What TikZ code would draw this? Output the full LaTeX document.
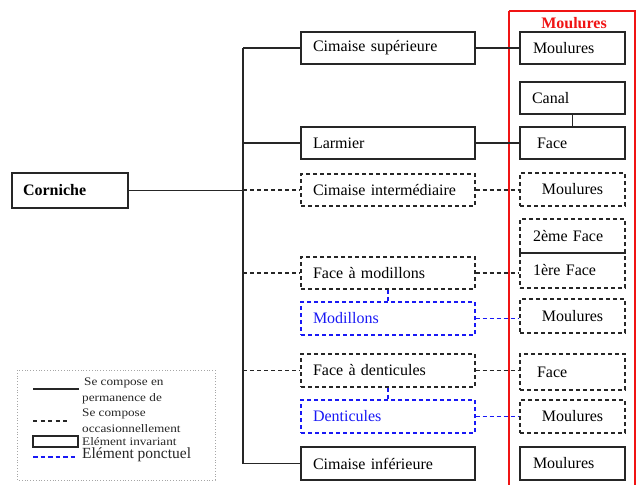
\documentclass[tikz,border=0pt]{standalone}
\usepackage{fontspec}
\setmainfont{Liberation Serif}
\newfontfamily\legfont[FakeStretch=1.15]{Liberation Serif}
\definecolor{myblue}{RGB}{25,25,245}
\definecolor{myred}{RGB}{240,20,20}
\begin{document}
\begin{tikzpicture}[x=1pt,y=-1pt,
  base/.style={line width=1.1pt, inner ysep=0pt, font=\fontsize{16}{19}\selectfont, align=left},
  midbox/.style={base, minimum width=174pt, text width=150pt, inner xsep=12pt, minimum height=32pt},
  rbox/.style={base, minimum width=105pt, text width=79pt, inner xsep=13pt, minimum height=32pt},
  solidb/.style={draw=black!85},
  dashb/.style={draw=black!85, dash pattern=on 4pt off 3pt},
  blueb/.style={draw=myblue, dash pattern=on 4pt off 3pt, text=myblue},
  sline/.style={line width=1.1pt, draw=black!85},
  dline/.style={line width=1.1pt, draw=black!85, dash pattern=on 4pt off 3pt},
  bline/.style={line width=1.1pt, draw=myblue, dash pattern=on 4pt off 3pt},
  legtxt/.style={anchor=west, inner sep=0pt, text=black!85, font=\legfont\fontsize{11.5}{13}\selectfont}
]
\useasboundingbox (0,0) rectangle (636,484);

% red frame
\draw[myred, line width=1.4pt] (509,11) -- (635,11) -- (635,490);
\draw[myred, line width=1.4pt] (509,11) -- (509,490);
\node[text=myred, font=\fontsize{16}{19}\selectfont\bfseries, inner sep=0pt] (rtitle) at (574,23) {Moulures};

% Corniche
\node[base, solidb, minimum width=116pt, minimum height=35pt, text width=94pt, inner xsep=11pt, font=\fontsize{16}{19}\selectfont\bfseries] (corn) at (70,190.5) {Corniche};

% middle column
\node[midbox, solidb] (cs) at (388,48) {Cimaise supérieure};
\node[midbox, solidb] (lar) at (388,143) {Larmier};
\node[midbox, dashb] (ci) at (388,190) {Cimaise intermédiaire};
\node[midbox, dashb] (fm) at (388,273) {Face à modillons};
\node[midbox, blueb, minimum height=33pt] (mod) at (388,318.5) {Modillons};
\node[midbox, dashb, minimum height=33pt] (fd) at (388,370.5) {Face à denticules};
\node[midbox, blueb, minimum height=33pt] (den) at (388,416.5) {Denticules};
\node[midbox, solidb, minimum height=33pt] (cinf) at (388,463.5) {Cimaise inférieure};

% right column
\node[rbox, solidb] (m1) at (572.5,48) {Moulures};
\node[rbox, solidb, inner xsep=12pt, text width=81pt] (canal) at (572.5,98) {Canal};
\node[rbox, solidb, inner xsep=17pt, text width=71pt] (face) at (572.5,143) {Face};
\node[rbox, dashb, minimum height=33pt, align=center] (m2) at (572.5,189.5) {Moulures};
\node[rbox, dashb, minimum height=34pt] (f2) at (572.5,236) {2ème Face};
\node[rbox, dashb, minimum height=35pt] (f1) at (572.5,270.5) {1ère Face};
\node[rbox, dashb, minimum height=34pt, align=center] (m3) at (572.5,316) {Moulures};
\node[rbox, dashb, minimum height=36pt, inner xsep=17pt, text width=71pt] (face2) at (572.5,372) {Face};
\node[rbox, dashb, minimum height=33pt, align=center] (m4) at (572.5,416.5) {Moulures};
\node[rbox, solidb, minimum height=33pt] (m5) at (572.5,463.5) {Moulures};

% trunk
\coordinate (ttop) at (243,48);
\coordinate (tbot) at (243,463.5);
\draw[sline] (ttop) -- (tbot);
\draw[sline] (corn.east) -- (corn.east -| ttop);
\draw[sline] (ttop |- cs.west) -- (cs.west);
\draw[sline] (ttop |- lar.west) -- (lar.west);
\draw[dline] (ttop |- ci.west) -- (ci.west);
\draw[dline] (ttop |- fm.west) -- (fm.west);
\draw[dline] (ttop |- fd.west) -- (fd.west);
\draw[sline] (ttop |- cinf.west) -- (cinf.west);

% middle to right
\draw[sline] (cs.east) -- (m1.west);
\draw[sline] (lar.east) -- (face.west);
\draw[dline] (ci.east) -- (ci.east -| m2.west);
\draw[dline] (fm.east) -- (fm.east -| f1.west);
\draw[bline] (mod.east) -- (mod.east -| m3.west);
\draw[dline] (fd.east) -- (fd.east -| face2.west);
\draw[bline] (den.east) -- (den.east -| m4.west);
\draw[sline] (canal.south) -- (canal.south |- face.north);

% sub-elements
\draw[bline] (fm.south) -- (mod.north);
\draw[bline] (fd.south) -- (den.north);

% legend
\draw[gray!70, line width=0.8pt, dotted] (17,370) rectangle (215,480);
\coordinate (l1a) at (33,389); \coordinate (l1b) at (79,389);
\draw[line width=1.2pt, black!85] (l1a) -- (l1b);
\node[legtxt] (t1) at (84,383) {Se compose en};
\node[legtxt] (t2) at (82,399) {permanence de};
\coordinate (l2a) at (33,421); \coordinate (l2b) at (70,421);
\draw[line width=1.1pt, black!85, dash pattern=on 4pt off 3.5pt] (l2a) -- (l2b);
\node[legtxt] (t3) at (82,414) {Se compose};
\node[legtxt] (t4) at (82,428.5) {occasionnellement};
\node[draw=black!85, line width=1.1pt, minimum width=45pt, minimum height=11pt, inner sep=0pt] (lrect) at (55.5,441.5) {};
\node[legtxt] (t5) at (82,441.5) {Elément invariant};
\coordinate (l3a) at (33,457); \coordinate (l3b) at (78,457);
\draw[line width=1.3pt, myblue, dash pattern=on 4.5pt off 3pt] (l3a) -- (l3b);
\node[legtxt, font=\fontsize{15.5}{18}\selectfont] (t6) at (82,455) {Elément ponctuel};
\end{tikzpicture}
\end{document}
